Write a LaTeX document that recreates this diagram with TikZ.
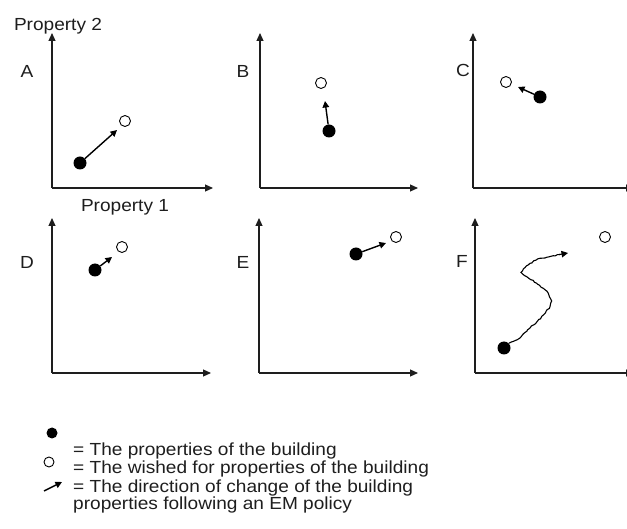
\documentclass[tikz,border=0pt]{standalone}
\usepackage{fontspec}
\setmainfont{Liberation Sans}[FakeStretch=1.09]
\usetikzlibrary{arrows.meta,decorations.pathmorphing}
\definecolor{ink}{HTML}{1E1E1E}
\begin{document}
\begin{tikzpicture}[x=1pt,y=-1pt,
  axis/.style={draw=ink, line width=1.1pt, -{Triangle[length=8pt,width=7pt]}},
  bdot/.style={circle, fill=black, inner sep=0pt, minimum size=13pt},
  wdot/.style={circle, draw=black, line width=0.9pt, fill=white, inner sep=0pt, minimum size=11pt},
  chg/.style={draw=black, line width=1.4pt, -{Triangle[length=6.5pt,width=6.5pt]}},
  lbl/.style={inner sep=0pt, text=ink, font=\fontsize{17.5}{21}\selectfont}]
\useasboundingbox (0,0) rectangle (627,529);
\clip (0,0) rectangle (627,529);
\fill[white] (0,0) rectangle (627,529);
% axes
\foreach \n/\ox/\oy/\rx in {A/52/188/213, B/260/188/418, C/473/188/634, D/52/373/211, E/259/373/418, F/475/373/634}{
  \coordinate (o\n) at (\ox,\oy);
  \coordinate (t\n) at (\ox,{\oy-155});
  \coordinate (r\n) at (\rx,\oy);
  \draw[axis] (o\n) -- (t\n);
  \draw[axis] (o\n) -- (r\n);
}
% labels
\node[lbl, anchor=base] (p2) at (58,31) {Property 2};
\node[lbl, anchor=base] (p1) at (125,212) {Property 1};
\node[lbl, anchor=base] (lA) at (27,78) {A};
\node[lbl, anchor=base] (lB) at (243,78) {B};
\node[lbl, anchor=base] (lC) at (463,77) {C};
\node[lbl, anchor=base] (lD) at (27,269) {D};
\node[lbl, anchor=base] (lE) at (243,269) {E};
\node[lbl, anchor=base] (lF) at (462,268) {F};
% A
\node[bdot] (bA) at (80,163) {};
\node[wdot] (wA) at (125,121) {};
\coordinate (hA) at (117,130);
\draw[chg] (bA) -- (hA);
% B
\node[bdot] (bB) at (329,131) {};
\node[wdot] (wB) at (321,83) {};
\coordinate (hB) at (325,101);
\draw[chg] (bB) -- (hB);
% C
\node[bdot] (bC) at (540,97) {};
\node[wdot] (wC) at (506,82) {};
\coordinate (hC) at (518,87);
\draw[chg] (bC) -- (hC);
% D
\node[bdot] (bD) at (95,270) {};
\node[wdot] (wD) at (122,247) {};
\coordinate (hD) at (112,257);
\draw[chg] (bD) -- (hD);
% E
\node[bdot] (bE) at (356,254) {};
\node[wdot] (wE) at (396,237) {};
\coordinate (hE) at (386,243);
\draw[chg] (bE) -- (hE);
% F
\node[bdot] (bF) at (504,348) {};
\node[wdot] (wF) at (605,237) {};
\coordinate (hF) at (568,253);
\pgfmathsetseed{11}
\draw[draw=black, line width=1.1pt, decorate, decoration={random steps, segment length=2.2pt, amplitude=0.7pt}]
  (bF.north east) -- (520,338) -- (530,328) -- (537,321.7) -- (543.3,315) -- (550,306.7) -- (551.7,301) -- (548.3,293.3) -- (543.3,288.3) -- (536.7,283.3) -- (526.7,276.7) -- (521,272.3) -- (523.3,269) -- (530,263.3) -- (540,258.3) -- (553.3,255.7) -- (560,254.5);
\draw[chg, line width=1.1pt] (559,254.6) -- (hF);
% legend
\node[circle, fill=black, inner sep=0pt, minimum size=11pt] (kb) at (52,433) {};
\node[circle, draw=black, line width=0.9pt, inner sep=0pt, minimum size=10pt] (kw) at (49,462) {};
\coordinate (ka) at (44,491);
\coordinate (kh) at (62,482);
\draw[chg] (ka) -- (kh);
\node[lbl, anchor=base west] (t1) at (73,456) {= The properties of the building};
\node[lbl, anchor=base west] (t2) at (73,473) {= The wished for properties of the building};
\node[lbl, anchor=base west] (t3) at (73,492) {= The direction of change of the building};
\node[lbl, anchor=base west] (t4) at (73,509) {properties following an EM policy};
\end{tikzpicture}
\end{document}
